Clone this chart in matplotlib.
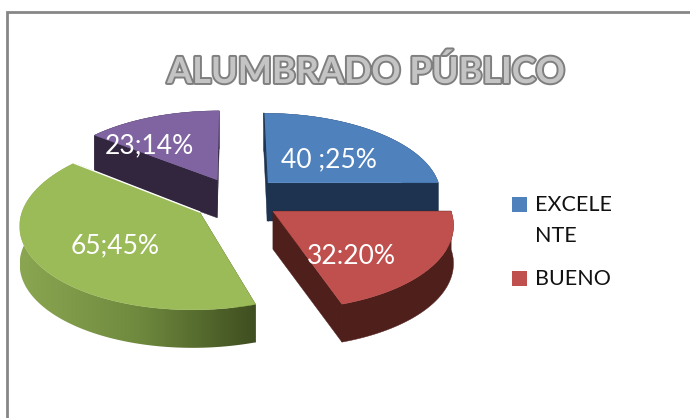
import numpy as np
import matplotlib
matplotlib.use('Agg')
import matplotlib.pyplot as plt
import matplotlib.patheffects as pe
from matplotlib.colors import LinearSegmentedColormap
from matplotlib.patches import Polygon, Rectangle

title = 'ALUMBRADO PÚBLICO'
values = [40, 32, 65, 23]
slice_labels = ['40 ;25%', '32:20%', '65;45%', '23;14%']
legend_labels = ['EXCELE\nNTE', 'BUENO']

top_colors = ['#4f81bd', '#c0504d', '#9bbb59', '#8064a2']
side_colors = ['#1d334f', '#4f1f1c', '#3f4e20', '#32263f']
explode = [0.25, 0.29, 0.31, 0.24]
radius = [1.0, 0.995, 0.99, 1.0]
nudge = [0, -6, 8, -2]
label_pos = [(329, 160), (351, 256), (115, 246), (149, 146)]

# projection of the tilted pie, in pixels
cx, cy = 237, 197
rx, ry = 175, 82
persp = 0.13
depth = 38


def project(u, v):
    w = 1 + persp * v
    return cx + rx * u / w, cy - ry * v / w


plt.rcParams['font.family'] = ['Lato', 'DejaVu Sans']

fig = plt.figure(figsize=(6.9, 4.18), dpi=100)
ax = fig.add_axes([0, 0, 1, 1])
ax.axis('off')

# chart frame runs off the right and bottom of the crop
ax.add_patch(Rectangle((7, 12), 800, 600, fc='white', ec='#868686', lw=2, zorder=0))

green_wall = LinearSegmentedColormap.from_list('wall', ['#8ba651', '#6f8a3e', '#3f4e20'])
ang = 90 - np.cumsum([0] + values) / sum(values) * 360
order = [3, 0, 2, 1]
for z, i in enumerate(order):
    t0, t1 = np.radians(ang[i]), np.radians(ang[i + 1])
    mid = (t0 + t1) / 2
    au, av = explode[i] * np.cos(mid), explode[i] * np.sin(mid)
    t = np.linspace(t0, t1, 120)
    x, y = project(au + radius[i] * np.cos(t), av + radius[i] * np.sin(t))
    x = x + nudge[i]
    ax0, ay0 = project(au, av)
    ax0 += nudge[i]
    base = z * 10 + 2

    # flat radial faces
    for xe, ye in ((x[0], y[0]), (x[-1], y[-1])):
        ax.fill([ax0, xe, xe, ax0], [ay0, ye, ye + depth, ay0 + depth],
                color=side_colors[i], lw=0.3, zorder=base)

    # outer wall
    wall = np.c_[np.r_[x, x[::-1]], np.r_[y, y[::-1] + depth]]
    if i == 2:
        im = ax.imshow(np.linspace(0, 1, 256)[None, :], cmap=green_wall, aspect='auto',
                       extent=(x.min(), x.max(), y.max() + depth, y.min()), zorder=base + 1)
        im.set_clip_path(Polygon(wall, transform=ax.transData))
    else:
        ax.fill(wall[:, 0], wall[:, 1], color=side_colors[i], lw=0.3, zorder=base + 1)

    ax.fill(np.r_[ax0, x], np.r_[ay0, y], color=top_colors[i], lw=0.3, zorder=base + 2)
    if i == 2:
        ax.plot([ax0, x[-1]], [ay0, y[-1]], color='white', lw=1, zorder=base + 3)
    if i == 0:
        ax.plot([x[0], ax0, ax0 + 1], [y[0], ay0, ay0 + depth], color=side_colors[i], lw=0.8, zorder=base + 3)

for (lx, ly), s in zip(label_pos, slice_labels):
    ax.text(lx, ly, s, color='white', fontsize=19, ha='center', va='center', zorder=100)

# title with the grey bevel look
ax.text(366, 83, title, fontsize=26, fontweight='bold', ha='center', va='baseline',
        color='#c4c4c4', zorder=100,
        path_effects=[pe.withStroke(linewidth=2.8, foreground='#7f7f7f')])

# legend
ax.add_patch(Rectangle((512, 197), 15, 15, fc=top_colors[0], ec='none'))
ax.add_patch(Rectangle((512, 271), 15, 15, fc=top_colors[1], ec='none'))
ax.text(535, 205, legend_labels[0].split('\n')[0], fontsize=15.5, va='center', color='#111111')
ax.text(535, 236, legend_labels[0].split('\n')[1], fontsize=15.5, va='center', color='#111111')
ax.text(535, 279, legend_labels[1], fontsize=15.5, va='center', color='#111111')

ax.set_xlim(0, 690)
ax.set_ylim(418, 0)
fig.savefig('out.png', dpi=100)
